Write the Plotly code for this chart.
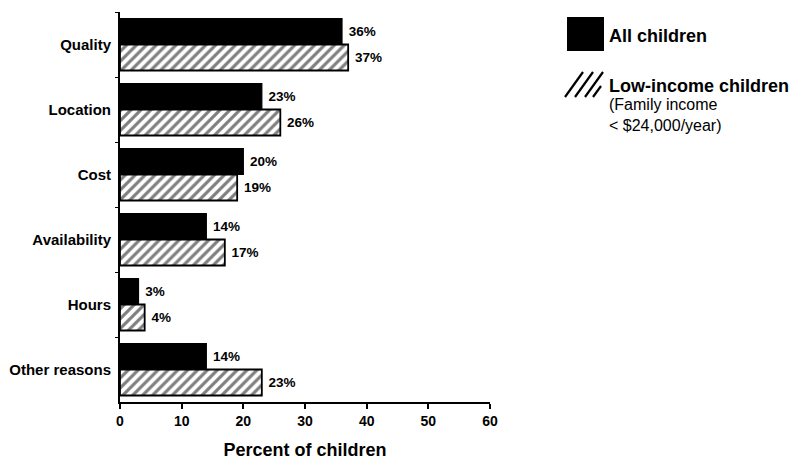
import plotly.graph_objects as go

categories = ["Quality", "Location", "Cost", "Availability", "Hours", "Other reasons"]
all_children = [36, 23, 20, 14, 3, 14]
low_income = [37, 26, 19, 17, 4, 23]
x_ticks = [0, 10, 20, 30, 40, 50, 60]

FONT = "Liberation Sans, Arial, sans-serif"

fig = go.Figure()
fig.add_trace(go.Bar(
    y=categories, x=all_children, orientation="h", name="All children",
    marker=dict(color="black", line=dict(color="black", width=1.2)),
    text=[f" {v}%" for v in all_children], textposition="outside",
    textfont=dict(family=FONT, size=13.5, color="black", weight="bold"),
    cliponaxis=False,
))
fig.add_trace(go.Bar(
    y=categories, x=low_income, orientation="h", name="Low-income children",
    marker=dict(color="white", line=dict(color="black", width=1.8),
                pattern=dict(shape="/", fgcolor="black", bgcolor="white", size=7, solidity=0.45)),
    text=[f" {v}%" for v in low_income], textposition="outside",
    textfont=dict(family=FONT, size=13.5, color="black", weight="bold"),
    cliponaxis=False,
))

OFF = 8  # page body margin
W, H = 805, 463
L, R, T, B = 120 - OFF, 805 - (490 - OFF), 12 - OFF, 463 - (402 - OFF)
pw, ph = W - L - R, H - T - B

def px(x):
    return (x - OFF - L) / pw

def py(y):
    return (H - B - (y - OFF)) / ph

shapes = [
    dict(type="rect", xref="paper", yref="paper", x0=px(567), x1=px(604), y0=py(51), y1=py(17),
         fillcolor="black", line=dict(color="black", width=0)),
]
for i in range(4):
    x0 = 565 + i * 10
    if i < 3:
        shapes.append(dict(type="line", xref="paper", yref="paper",
                           x0=px(x0), y0=py(97), x1=px(x0 + 18), y1=py(72),
                           line=dict(color="black", width=2.2)))
    else:
        shapes.append(dict(type="line", xref="paper", yref="paper",
                           x0=px(x0 - 2), y0=py(97), x1=px(x0 + 6), y1=py(86),
                           line=dict(color="black", width=2.2)))

annotations = [
    dict(text="<b>All children</b>", xref="paper", yref="paper", x=px(607), y=py(36),
         xanchor="left", yanchor="middle", showarrow=False,
         font=dict(family=FONT, size=18, color="black")),
    dict(text="<b>Low-income children</b>", xref="paper", yref="paper", x=px(607), y=py(86),
         xanchor="left", yanchor="middle", showarrow=False,
         font=dict(family=FONT, size=18, color="black")),
    dict(text="(Family income<br>< $24,000/year)", xref="paper", yref="paper", x=px(607), y=py(94),
         xanchor="left", yanchor="top", showarrow=False, align="left",
         font=dict(family=FONT, size=16, color="black")),
]

fig.update_layout(
    width=W, height=H,
    margin=dict(l=L, r=R, t=T, b=B, autoexpand=False),
    paper_bgcolor="white", plot_bgcolor="white",
    barmode="group", bargap=0.2, bargroupgap=0,
    showlegend=False,
    font=dict(family=FONT, color="black"),
    shapes=shapes, annotations=annotations,
    xaxis=dict(range=[0, 60], tickvals=x_ticks, showgrid=False, zeroline=False,
               showline=True, linecolor="black", linewidth=2, automargin=False,
               ticks="outside", ticklen=5, tickwidth=1.5, tickcolor="black",
               tickfont=dict(family=FONT, size=14, color="black", weight="bold"),
               title=dict(text="<b>Percent of children</b>", standoff=16,
                          font=dict(family=FONT, size=18, color="black"))),
    yaxis=dict(autorange="reversed", showgrid=False, zeroline=False,
               showline=True, linecolor="black", linewidth=2, automargin=False,
               ticks="outside", tickson="boundaries", ticklen=3, tickcolor="black",
               tickfont=dict(family=FONT, size=15, color="black", weight="bold"),
               ticklabelstandoff=4),
)

fig.write_html("out.html")
